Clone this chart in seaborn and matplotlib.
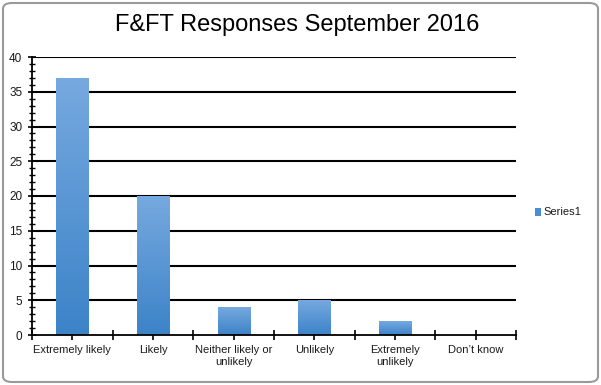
import numpy as np
import pandas as pd
import matplotlib
matplotlib.use("Agg")
import matplotlib.pyplot as plt
import seaborn as sns
from matplotlib.patches import FancyBboxPatch, Rectangle
from matplotlib.colors import LinearSegmentedColormap
from matplotlib.ticker import MultipleLocator, FixedLocator

categories = ["Extremely likely", "Likely", "Neither likely or\nunlikely", "Unlikely",
              "Extremely\nunlikely", "Don\u2019t know"]
values = [37, 20, 4, 5, 2, 0]
series_name = "Series1"
title = "F&FT Responses September 2016"
yticks = [0, 5, 10, 15, 20, 25, 30, 35, 40]

sns.set_theme(style="white")
plt.rcParams['font.family'] = ['Liberation Sans', 'DejaVu Sans']

df = pd.DataFrame({"cat": categories, "val": values})

fig = plt.figure(figsize=(6.01, 3.85), dpi=100)
ax = fig.add_axes([32/601, 1-335/385, (516-32)/601, (335-57)/385])

sns.barplot(data=df, x="cat", y="val", ax=ax, color="#4a8fd6", width=0.4,
            saturation=1, zorder=3)

# gradient fill
cmap = LinearSegmentedColormap.from_list("g", ["#3c83c8", "#76a9df"])
grad = np.linspace(0, 1, 256).reshape(-1, 1)
for p in ax.patches:
    x0, y0 = p.get_x(), p.get_y()
    w, h = p.get_width(), p.get_height()
    if h <= 0:
        continue
    im = ax.imshow(grad, cmap=cmap, aspect="auto", origin="lower",
                   extent=[x0, x0 + w, y0, y0 + h], zorder=3)
    im.set_clip_path(p)
    p.set_facecolor("none")
    p.set_edgecolor("none")

ax.set_xlim(-0.5, len(categories) - 0.5)
ax.set_ylim(0, 40)
ax.set_aspect("auto")
ax.set_yticks(yticks)
ax.yaxis.set_minor_locator(MultipleLocator(1))
ax.xaxis.set_minor_locator(FixedLocator(np.arange(-0.5, len(categories), 1.0)))

for y in yticks[1:]:
    ax.axhline(y, color="black", lw=1.5, zorder=2)

ax.set_xlabel("")
ax.set_ylabel("")
for s in ["top", "right"]:
    ax.spines[s].set_visible(False)
for s in ["left", "bottom"]:
    ax.spines[s].set_color("black")
    ax.spines[s].set_linewidth(1.3)
    ax.spines[s].set_zorder(4)

ax.tick_params(axis="y", which="major", direction="inout", length=6, width=1.2,
               colors="black", labelsize=8.5, pad=4, left=True)
ax.tick_params(axis="y", which="minor", direction="inout", length=4, width=1,
               colors="black", left=True)
ax.tick_params(axis="x", which="both", direction="inout", length=7, width=1.2,
               colors="black", labelsize=8, pad=4, bottom=True)
for lbl in ax.get_xticklabels():
    lbl.set_color("#1a1a1a")
for lbl in ax.get_yticklabels():
    lbl.set_color("#1a1a1a")

fig.text(297/601, 1-25/385, title, ha="center", va="center", fontsize=17,
         color="black")

# legend
fig.patches.append(Rectangle((535/601, 1-216/385), 6/601, 8/385,
                             transform=fig.transFigure, facecolor="#4a8fd6",
                             edgecolor="none"))
fig.text(543/601, 1-212/385, series_name, ha="left", va="center", fontsize=8,
         color="#1a1a1a")

# rounded border
fig.patches.append(FancyBboxPatch((3/601, 3/385), 595/601, 379/385,
                                  boxstyle="round,pad=0,rounding_size=0.015",
                                  transform=fig.transFigure, facecolor="none",
                                  edgecolor="#9a9a9a", lw=1.5))

fig.savefig("out.png", dpi=100)
